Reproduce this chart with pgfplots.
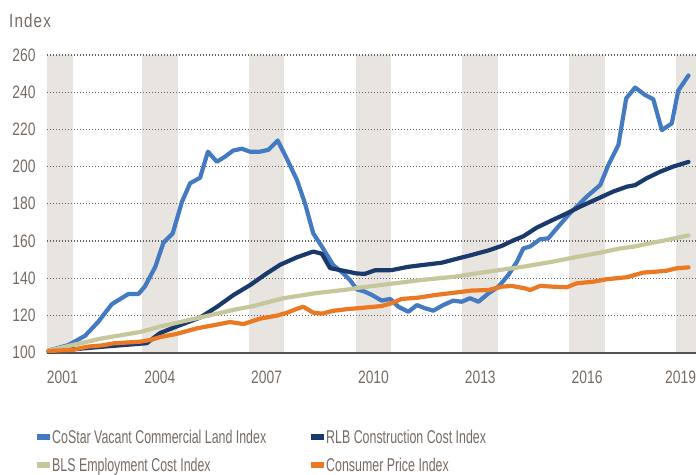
\documentclass[border=0pt]{standalone}
\usepackage{fontspec}
\setmainfont{Liberation Sans}[FakeStretch=0.67]
\newfontfamily\tickfont{Liberation Sans}[FakeStretch=0.77]
\newfontfamily\indexfont{Liberation Sans}[FakeStretch=0.8,LetterSpace=6]
\usepackage{pgfplots}
\pgfplotsset{compat=1.18}
\definecolor{costar}{RGB}{68,122,192}
\definecolor{rlb}{RGB}{27,58,108}
\definecolor{bls}{RGB}{198,199,156}
\definecolor{cpi}{RGB}{235,121,35}
\definecolor{band}{RGB}{232,229,224}
\definecolor{txt}{RGB}{118,107,99}
\begin{document}
\begin{tikzpicture}
\begin{axis}[
  at={(0,0)}, anchor=south west,
  scale only axis, width=649pt, height=297.5pt,
  xmin=2001.33, xmax=2019.56, ymin=100, ymax=260,
  set layers, clip=false,
  axis x line*=bottom, axis y line*=left,
  y axis line style={draw=none},
  x axis line style={draw=black!68, line width=2pt},
  ytick={100,120,...,260},
  ymajorgrids,
  grid style={dash pattern=on 1.2pt off 1.8pt, line width=1.2pt, color=black!62},
  major tick length=0,
  xtick={2004.5,2007.5,2010.5,2013.5,2016.5},
  xticklabels={2004,2007,2010,2013,2016},
  extra x ticks={2001.33,2019.56},
  extra x tick labels={\makebox[0pt][l]{2001},\makebox[0pt][r]{2019}},
  extra x tick style={grid=none},
  ticklabel style={font=\fontsize{18}{20}\tickfont, text=txt},
  /pgf/number format/assume math mode=true,
  yticklabel style={xshift=-8pt},
  xticklabel style={yshift=-15pt},
  legend columns=2,
  legend cell align=left,
  legend style={draw=none, fill=none, inner sep=0pt, at={(0,0)}, anchor=north west,
    xshift=-10pt, yshift=-75pt, font=\fontsize{18.5}{22}\selectfont, text=txt,
    /tikz/every even column/.append style={column sep=43pt}, row sep=9pt},
  legend image code/.code={\fill[#1,draw=none] (0pt,-3pt) rectangle (13pt,3pt);},
  every axis plot/.append style={line width=4.2pt, line join=round, line cap=round},
]
\begin{pgfonlayer}{axis background}
\fill[band] (axis cs:2001.33,100) rectangle (axis cs:2002.05,260);
\fill[band] (axis cs:2004,100) rectangle (axis cs:2005,260);
\fill[band] (axis cs:2007,100) rectangle (axis cs:2008,260);
\fill[band] (axis cs:2010,100) rectangle (axis cs:2011,260);
\fill[band] (axis cs:2013,100) rectangle (axis cs:2014,260);
\fill[band] (axis cs:2016,100) rectangle (axis cs:2017,260);
\fill[band] (axis cs:2019,100) rectangle (axis cs:2019.56,260);
\end{pgfonlayer}
\addplot[costar] coordinates {
(2001.37,101) (2001.93,104) (2002.40,109) (2002.77,116.5) (2003.15,126) (2003.62,131.5)
(2003.90,131.5) (2004.08,135.5) (2004.37,146) (2004.60,159) (2004.86,164) (2005.12,181)
(2005.35,191) (2005.63,194) (2005.85,208) (2006.10,202.6) (2006.33,205.3) (2006.56,208.6)
(2006.80,209.6) (2007.03,208) (2007.31,208) (2007.55,209) (2007.81,214) (2008.06,204.5)
(2008.35,192.8) (2008.58,180) (2008.81,164) (2009.05,157) (2009.37,147) (2009.65,142.6)
(2009.84,139) (2010.03,134) (2010.26,132.7) (2010.45,131) (2010.73,127.9) (2010.97,128.8)
(2011.20,124.6) (2011.48,121.9) (2011.72,125.5) (2011.95,123.8) (2012.18,122.5) (2012.46,125.5)
(2012.74,127.9) (2012.98,127.3) (2013.21,129.2) (2013.45,127.3) (2013.73,131.8) (2014.01,135.4)
(2014.29,141.7) (2014.53,148.8) (2014.71,156) (2014.90,157) (2015.18,160.9) (2015.41,161.4)
(2015.69,167.7) (2016.02,174.9) (2016.49,183.8) (2016.87,190.1) (2017.10,200.9) (2017.38,211.6)
(2017.60,236.7) (2017.85,242.5) (2018.13,238.5) (2018.36,236.2) (2018.60,219.6) (2018.88,223.2)
(2019.06,240.8) (2019.35,249)
};
\addlegendentry{CoStar Vacant Commercial Land Index}
\addplot[rlb] coordinates {
(2001.37,100.5) (2002.82,103) (2004.13,105) (2004.51,110.5) (2004.97,114) (2005.63,118.8)
(2006.10,124.5) (2006.56,130.8) (2007.03,136.2) (2007.50,142.5) (2007.88,147.2) (2008.35,151.2)
(2008.81,154.3) (2009.05,153.1) (2009.28,145.4) (2009.65,144) (2010.03,142.5) (2010.26,142.3)
(2010.54,144.2) (2011.01,144.3) (2011.48,146.1) (2011.95,147.2) (2012.42,148.3) (2012.88,150.6)
(2013.21,152.2) (2013.73,154.9) (2014.10,157.3) (2014.43,160.3) (2014.71,162.5) (2015.09,167.2)
(2015.55,171.4) (2015.93,174.8) (2016.30,178.4) (2016.77,182.5) (2017.24,186.6) (2017.62,189.2)
(2017.85,190) (2018.18,193.8) (2018.55,197.2) (2018.92,200) (2019.35,202.5)
};
\addlegendentry{RLB Construction Cost Index}
\addplot[bls] coordinates {
(2001.37,101) (2002.82,107.4) (2003.94,111) (2004.51,114) (2005.63,118.8) (2006.56,122.9)
(2007.13,125) (2007.97,129.2) (2008.91,132) (2009.75,133.8) (2010.12,134.9) (2010.92,136.8)
(2011.86,139) (2012.79,140.8) (2013.73,143.5) (2014.76,146.3) (2015.55,148.9) (2016.21,151.4)
(2016.87,153.7) (2017.43,156) (2017.80,156.9) (2018.36,159.1) (2018.74,160.5) (2019.35,163)
};
\addlegendentry{BLS Employment Cost Index}
\addplot[cpi] coordinates {
(2001.37,100.8) (2002.07,101.5) (2002.45,103.1) (2002.91,103.9) (2003.19,104.9) (2003.94,105.8)
(2004.22,106.7) (2004.51,108.3) (2004.97,110) (2005.54,113) (2006.10,115) (2006.47,116.4)
(2006.85,115.3) (2007.31,118.2) (2007.78,119.8) (2008.06,121.3) (2008.35,123.5) (2008.53,124.6)
(2008.81,121.4) (2009.05,120.9) (2009.37,122.4) (2009.75,123.3) (2010.12,123.9) (2010.73,125)
(2011.01,126.5) (2011.29,128.8) (2011.76,129.5) (2012.23,130.9) (2012.79,132.2) (2013.26,133.3)
(2013.73,133.6) (2014.10,135.4) (2014.39,135.8) (2014.76,134.5) (2014.90,133.6) (2015.18,135.8)
(2015.55,135.4) (2015.93,135.1) (2016.21,137.2) (2016.68,138.1) (2017.05,139.4) (2017.62,140.5)
(2018.08,143) (2018.46,143.5) (2018.74,144) (2019.02,145.3) (2019.35,145.8)
};
\addlegendentry{Consumer Price Index}
\node[anchor=base west, xshift=-38pt, yshift=27.5pt, inner sep=0pt,
  font=\fontsize{19}{22}\indexfont, text=txt] at (rel axis cs:0,1) {Index};
\end{axis}
\pgfresetboundingbox
\path[use as bounding box] (-47pt,-121.5pt) rectangle (649pt,352.5pt);
\end{tikzpicture}
\end{document}
